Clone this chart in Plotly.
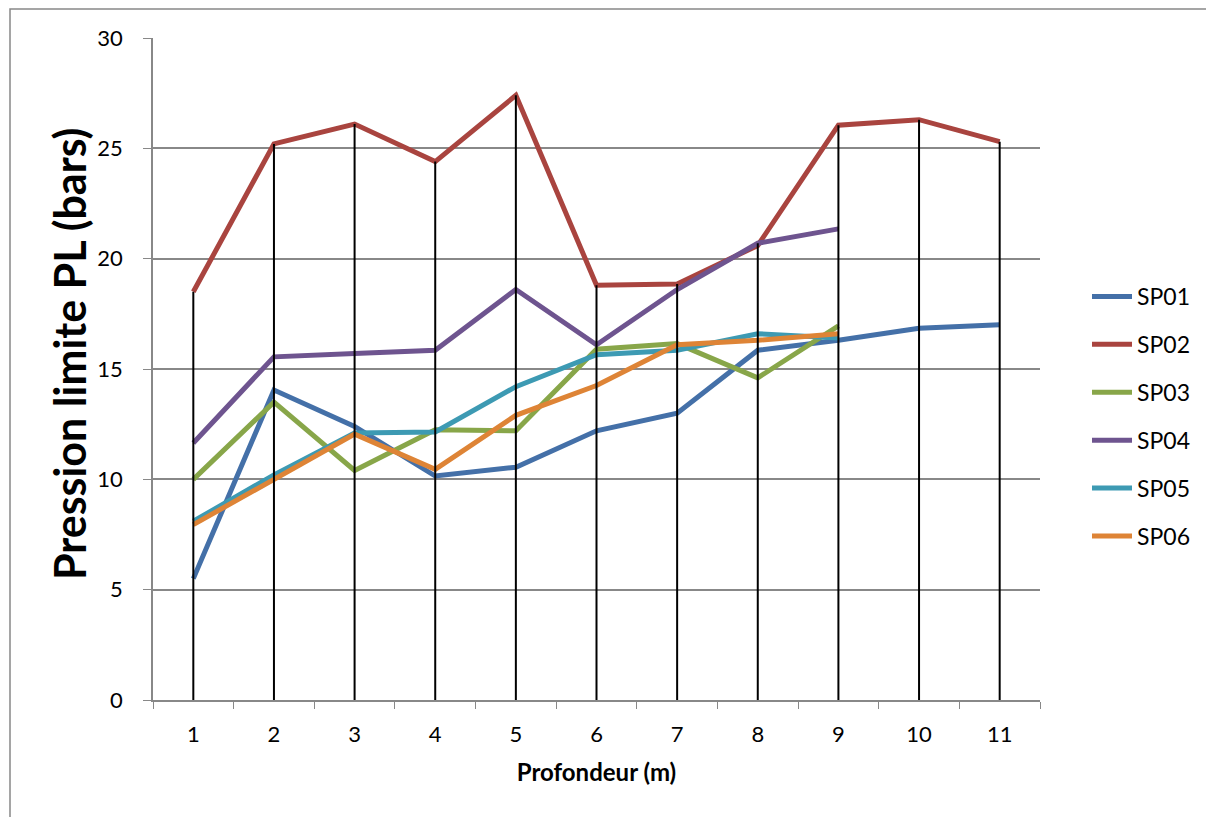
import plotly.graph_objects as go

depths = ["1", "2", "3", "4", "5", "6", "7", "8", "9", "10", "11"]
sp01 = [5.5, 14.05, 12.4, 10.15, 10.55, 12.2, 13.0, 15.85, 16.3, 16.85, 17.0]
sp02 = [18.5, 25.2, 26.1, 24.4, 27.4, 18.8, 18.85, 20.6, 26.05, 26.3, 25.3]
sp03 = [10.0, 13.5, 10.4, 12.25, 12.2, 15.9, 16.15, 14.6, 16.95]
sp04 = [11.65, 15.55, 15.7, 15.85, 18.6, 16.1, 18.6, 20.7, 21.35]
sp05 = [8.1, 10.2, 12.1, 12.15, 14.2, 15.65, 15.85, 16.6, 16.4]
sp06 = [7.95, 10.0, 12.05, 10.45, 12.9, 14.25, 16.1, 16.3, 16.6]

series_names = ["SP01", "SP02", "SP03", "SP04", "SP05", "SP06"]
series_vals = [sp01, sp02, sp03, sp04, sp05, sp06]
colors = ["#4470A8", "#A9443F", "#88A649", "#6E548F", "#3D9AB3", "#DE8436"]
yticks = [0, 5, 10, 15, 20, 25, 30]

FONT = "Lato"
fig = go.Figure()

for name, vals, col in zip(series_names, series_vals, colors):
    fig.add_trace(go.Scatter(
        x=depths[:len(vals)], y=vals, name=name, mode="lines",
        line=dict(color=col, width=5), legendgroup=name,
    ))

# drop lines: from axis to highest value at each category
dx, dy = [], []
for i, d in enumerate(depths):
    m = max(v[i] for v in series_vals if i < len(v))
    dx += [d, d, None]
    dy += [0, m, None]
fig.add_trace(go.Scatter(x=dx, y=dy, mode="lines", showlegend=False,
                         line=dict(color="black", width=2), hoverinfo="skip"))

# page body has an 8px margin; work in figure coordinates
OFF = 8
W, H = 1214 - OFF, 817 - OFF
L, R, T, B = 153 - OFF, 1040 - OFF, 38 - OFF, 700 - OFF
pw, ph = R - L, B - T

fig.add_shape(type="rect", xref="paper", yref="paper",
              x0=(10 - OFF - L) / pw, x1=(1240 - L) / pw,
              y0=-(840 - B) / ph, y1=1 + (T - 1) / ph,
              line=dict(color="#888888", width=1.5), layer="below")

fig.add_annotation(text="<b>Pression limite PL (bars)</b>", textangle=-90,
                   xref="paper", yref="paper",
                   x=(69 - OFF - L) / pw, y=1 - (354 - OFF - T) / ph,
                   xanchor="center", yanchor="middle", showarrow=False,
                   font=dict(size=43, family=FONT, color="black"))

fig.update_layout(
    width=W, height=H,
    margin=dict(l=L, r=W - R, t=T, b=H - B, autoexpand=False),
    paper_bgcolor="white", plot_bgcolor="white",
    font=dict(family=FONT, size=22, color="black"),
    showlegend=True,
    legend=dict(x=(1087 - OFF - L) / pw, y=1 - (275 - OFF - T) / ph, xanchor="left", yanchor="top",
                font=dict(size=23, family=FONT), tracegroupgap=15,
                itemwidth=40, bgcolor="rgba(0,0,0,0)"),
    xaxis=dict(type="category", categoryorder="array", categoryarray=depths,
               range=[-0.5, len(depths) - 0.5], automargin=False,
               tickson="boundaries", ticks="outside", ticklen=7, tickcolor="#888888",
               showline=True, linecolor="#888888", linewidth=1.5, showgrid=False,
               tickfont=dict(size=22, family=FONT), ticklabelstandoff=14,
               title=dict(text="<b>Profondeur (m)</b>", font=dict(size=24, family=FONT), standoff=18)),
    yaxis=dict(range=[0, 30], tickvals=yticks, ticks="outside", ticklen=8, tickcolor="#888888",
               showline=True, linecolor="#888888", linewidth=1.5, automargin=False,
               showgrid=True, gridcolor="#888888", gridwidth=1.5, zeroline=False,
               tickfont=dict(size=22, family=FONT), ticklabelstandoff=16),
)

fig.write_html("out.html")
